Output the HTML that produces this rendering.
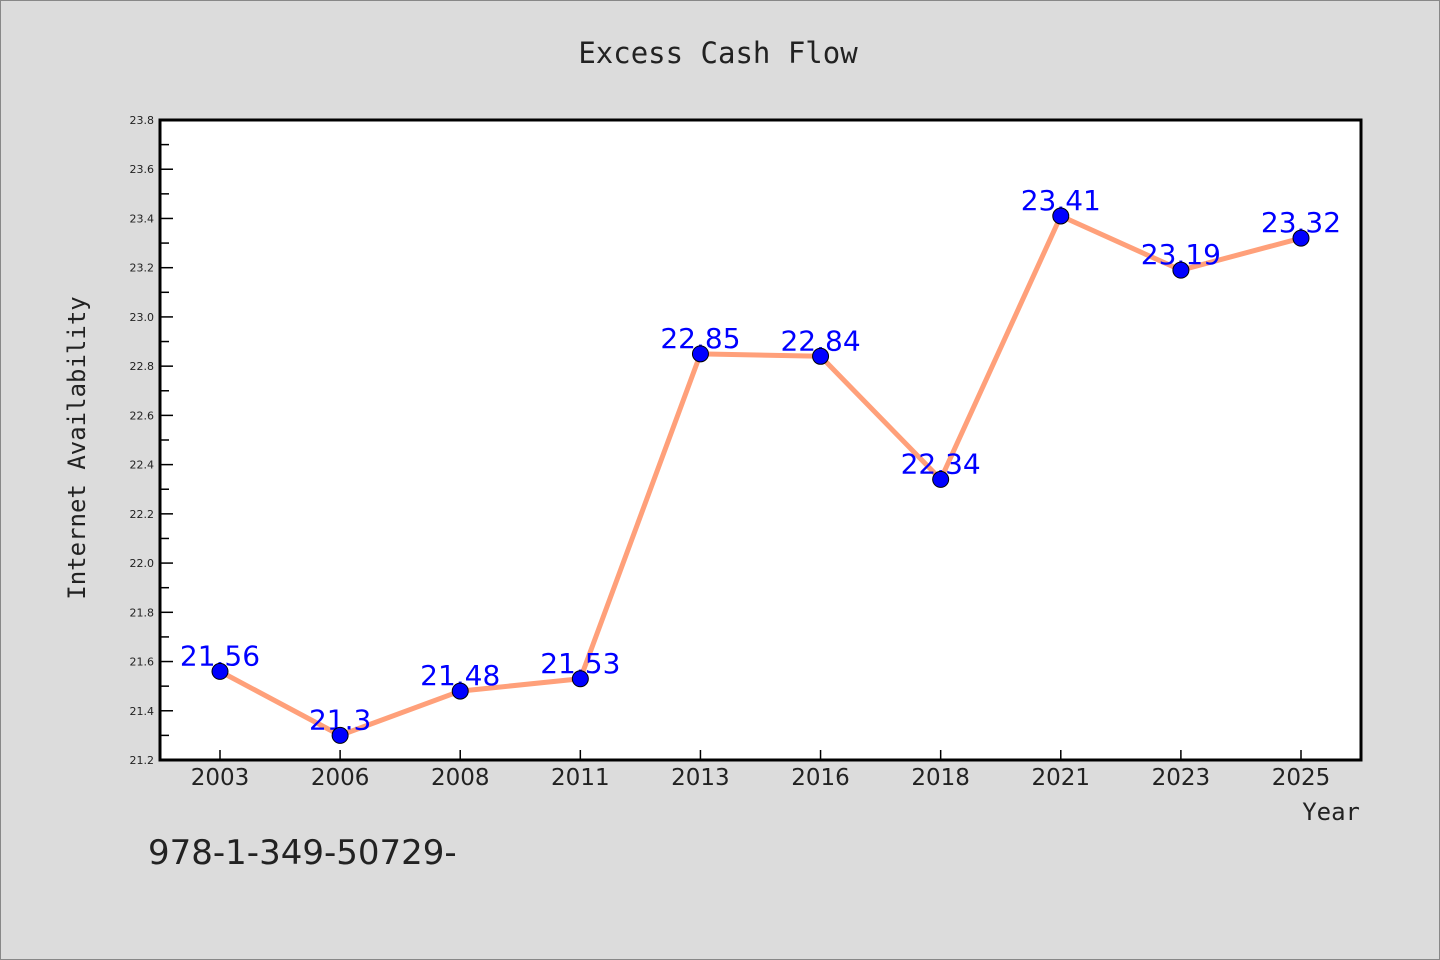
<!DOCTYPE html>
<html><head><meta charset="utf-8"><style>
body{margin:0;background:#dcdcdc;}
svg{display:block;font-family:"DejaVu Sans","Liberation Sans",sans-serif;}
</style></head><body>
<svg width="1440" height="960">
<rect x="0.5" y="0.5" width="1439" height="959" fill="#dcdcdc" stroke="#888"/>
<text x="718" y="63" text-anchor="middle" font-family="DejaVu Sans Mono, monospace" font-size="29" fill="#222">Excess Cash Flow</text>
<rect x="160" y="120" width="1201" height="640" fill="#fff"/>
<g id="yaxis"></g><g id="xaxis"></g>
<rect x="160" y="120" width="1201" height="640" fill="none" stroke="#000" stroke-width="3"/>
<text transform="translate(85,448) rotate(-90)" text-anchor="middle" font-family="DejaVu Sans Mono, monospace" font-size="24" fill="#222">Internet Availability</text>
<text x="1360" y="820" text-anchor="end" font-family="DejaVu Sans Mono, monospace" font-size="24" fill="#222">Year</text>
<text x="148" y="864" font-size="34" fill="#222">978-1-349-50729-</text>
<g id="series"></g>
</svg>
<script>
const categories=["2003","2006","2008","2011","2013","2016","2018","2021","2023","2025"];
const values=[21.56,21.3,21.48,21.53,22.85,22.84,22.34,23.41,23.19,23.32];
const valueLabels=["21.56","21.3","21.48","21.53","22.85","22.84","22.34","23.41","23.19","23.32"];
const yTicks=[21.2,21.4,21.6,21.8,22.0,22.2,22.4,22.6,22.8,23.0,23.2,23.4,23.6,23.8];
const NS="http://www.w3.org/2000/svg";
const L=160,R=1361,T=120,B=760,yMin=21.2,yMax=23.8;
const y=v=>B-(v-yMin)/(yMax-yMin)*(B-T);
const x=i=>220+i*((R-L-120)/(categories.length-1));
function mk(tag,a,p){const e=document.createElementNS(NS,tag);for(const k in a)e.setAttribute(k,a[k]);p.appendChild(e);return e;}
const ya=document.getElementById('yaxis');
yTicks.forEach((t,i)=>{
 const l=mk('line',{x1:L,x2:L+13,y1:y(t),y2:y(t),stroke:'#000','stroke-width':1.5},ya);
 
 
 if(i<yTicks.length-1){const m=mk('line',{x1:L,x2:L+9,y1:y(t+0.1),y2:y(t+0.1),stroke:'#000','stroke-width':1.5},ya);
 
 }
 const tx=mk('text',{x:L-6,y:y(t)+4,'text-anchor':'end','font-size':11,fill:'#222'},ya);
 tx.textContent=t.toFixed(1);
 
 
});
const xa=document.getElementById('xaxis');
categories.forEach((c,i)=>{
 const l=mk('line',{x1:x(i),x2:x(i),y1:B-10,y2:B,stroke:'#000','stroke-width':1.5},xa);
 
 
 const t=mk('text',{x:x(i),y:B+25,'text-anchor':'middle','font-size':23,fill:'#222'},xa);
 t.textContent=c;
 
 
});
const s=document.getElementById('series');
const pl=mk('polyline',{points:values.map((v,i)=>x(i)+','+y(v)).join(' '),fill:'none',stroke:'#ffa07a','stroke-width':5,'stroke-linejoin':'round'},s);


values.forEach((v,i)=>{
 const t=mk('text',{x:x(i),y:y(v)-6,'text-anchor':'middle','font-size':28,fill:'#0000ff'},s);
 t.textContent=valueLabels[i];
 
 
});
values.forEach((v,i)=>{
 const c=mk('circle',{cx:x(i),cy:y(v),r:8,fill:'#0000ff',stroke:'#000','stroke-width':1},s);
 
 
});
</script>
</body></html>
